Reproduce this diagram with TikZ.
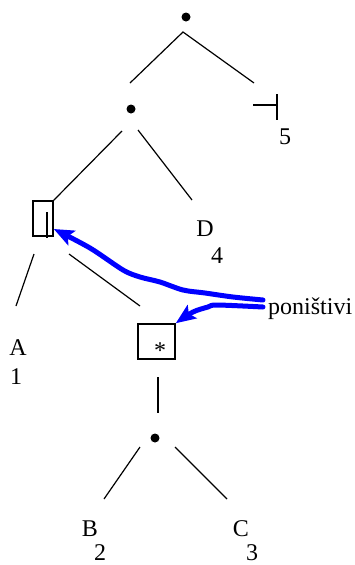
\documentclass[tikz,border=0pt]{standalone}
\usepackage{fontspec}
\setmainfont{Liberation Serif}
\usetikzlibrary{arrows.meta}
\begin{document}
\begin{tikzpicture}[x=1pt,y=-1pt,
  edge/.style={line width=1.2pt},
  dotnode/.style={circle,fill=black,inner sep=0pt,minimum size=9pt},
  lbl/.style={inner sep=0pt,font=\fontsize{24}{28}\selectfont},
  boxnode/.style={draw,line width=1.5pt,inner sep=0pt},
  undo/.style={draw=blue,line width=5pt,line cap=round,line join=round,
    -{Stealth[length=20pt,width=16pt,inset=4pt]}}]
\useasboundingbox (0,0) rectangle (355,565);

% nodes
\node[dotnode] (r) at (186,17) {};
\node[dotnode] (n1) at (131,109) {};
\node[dotnode] (n2) at (155,438) {};
\node[boxnode,minimum width=20pt,minimum height=35pt] (box1) at (43,218.5) {};
\node[boxnode,minimum width=37pt,minimum height=35pt] (box2) at (156.5,341.5) {};
\node[lbl,anchor=base] (star) at (160,358) {*};

\node[lbl] (A) at (18,348) {A};
\node[lbl] (one) at (16,377) {1};
\node[lbl] (D) at (205,228.5) {D};
\node[lbl] (four) at (217,256) {4};
\node[lbl] (five) at (285,137) {5};
\node[lbl] (B) at (90,529) {B};
\node[lbl] (two) at (100,553) {2};
\node[lbl] (C) at (241,529) {C};
\node[lbl] (three) at (252,553) {3};
\node[lbl,anchor=base west] (pon) at (268,314) {poništivi};

% coordinates of line ends
\coordinate (ra) at (183,32);
\coordinate (rl) at (130,83);
\coordinate (rr) at (254,83);
\coordinate (th) at (253,105);
\coordinate (tc) at (277,105);
\coordinate (tt) at (277,94);
\coordinate (tb) at (277,120);
\coordinate (n1l) at (122,131);
\coordinate (n1r) at (138,130);
\coordinate (n1re) at (192,200);
\coordinate (b1i) at (47,212);
\coordinate (b1ie) at (47,238);
\coordinate (b1l) at (34,254);
\coordinate (b1le) at (16,306);
\coordinate (b1r) at (69,254);
\coordinate (b1re) at (140,306);
\coordinate (b2d) at (158,377);
\coordinate (b2de) at (158,413);
\coordinate (n2l) at (140,447);
\coordinate (n2le) at (104,499);
\coordinate (n2r) at (175,447);
\coordinate (n2re) at (227,499);
\coordinate (u1s) at (263,300);
\coordinate (u2s) at (263,307);

% tree lines
\draw[edge] (rl) -- (ra) -- (rr);
\draw[edge] (th) -- (tc);
\draw[edge] (tt) -- (tb);
\draw[edge] (n1l) -- (box1.north east);
\draw[edge] (n1r) -- (n1re);
\draw[edge] (b1i) -- (b1ie);
\draw[edge] (b1l) -- (b1le);
\draw[edge] (b1r) -- (b1re);
\draw[edge] (b2d) -- (b2de);
\draw[edge] (n2l) -- (n2le);
\draw[edge] (n2r) -- (n2re);

% blue arrows
\draw[undo] plot[smooth,tension=0.5] coordinates {(u1s) (233,297) (205,293) (183,290) (160,282) (140,277) (123,270) (90,248) ([yshift=-10.5pt]box1.east)};
\draw[undo] plot[smooth,tension=0.5] coordinates {(u2s) (217,305) (208,307) (193,312) (box2.north east)};
\end{tikzpicture}
\end{document}
